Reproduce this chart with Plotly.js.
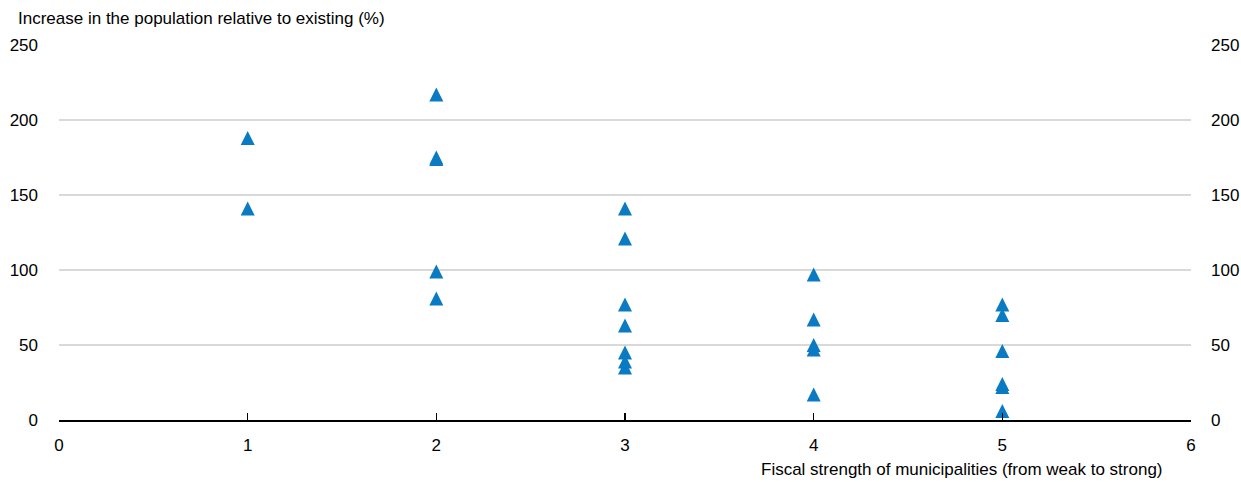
<!DOCTYPE html>
<html>
<head>
<meta charset="utf-8">
<script src="https://cdn.plot.ly/plotly-3.0.1.min.js"></script>
<style>html,body{margin:0;padding:0;background:#fff;}#chart{width:1241px;height:482px;}</style>
</head>
<body>
<div id="chart"></div>
<script>
// Fiscal strength group (x) and population increase (%) (y)
const fiscalStrength = [1, 1, 2, 2, 2, 2, 2, 3, 3, 3, 3, 3, 3, 3, 4, 4, 4, 4, 4, 5, 5, 5, 5, 5, 5];
const populationIncrease = [188, 141, 217, 175, 174, 99, 81, 141, 121, 77, 63, 45, 39, 35, 97, 67, 50, 47, 17, 77, 70, 46, 24, 22, 6];
const xTicks = [0, 1, 2, 3, 4, 5, 6];
const yTicks = [0, 50, 100, 150, 200, 250];
const yTitle = "Increase in the population relative to existing (%)";
const xTitle = "Fiscal strength of municipalities (from weak to strong)";

const FONT = "'Liberation Sans', Arial, sans-serif";
const FS = 17;
const MS = 14;

const trace = {
  x: fiscalStrength,
  y: populationIncrease,
  type: 'scatter',
  mode: 'markers',
  marker: {symbol: 'arrow-down', angle: 180, size: MS, standoff: MS / 2, color: '#0a7bc2', line: {width: 0}},
  hoverinfo: 'x+y',
  showlegend: false
};
// same points on the right-hand axis (transparent) so the mirrored axis is drawn
const traceRight = {
  x: fiscalStrength,
  y: populationIncrease,
  yaxis: 'y2',
  type: 'scatter',
  mode: 'markers',
  marker: {opacity: 0, size: 1},
  hoverinfo: 'skip',
  showlegend: false
};

const layout = {
  width: 1241, height: 482,
  margin: {l: 58.5, r: 50, t: 45, b: 61.5},
  paper_bgcolor: '#fff', plot_bgcolor: '#fff',
  font: {family: FONT, size: FS, color: '#000'},
  showlegend: false,
  xaxis: {
    range: [0, 6], tickvals: xTicks, ticktext: xTicks.map(String),
    showgrid: false, zeroline: false,
    showline: true, linecolor: '#000', linewidth: 1.5,
    ticks: 'inside', ticklen: 7, tickwidth: 1.5, tickcolor: '#000',
    ticklabelstandoff: 9,
    tickfont: {family: FONT, size: FS, color: '#000'}
  },
  yaxis: {
    range: [0, 250], tickvals: yTicks, ticktext: yTicks.map(String),
    showgrid: true, gridcolor: '#d9d9d9', gridwidth: 1.5,
    zeroline: false, showline: false, ticks: '',
    ticklabelstandoff: 20,
    tickfont: {family: FONT, size: FS, color: '#000'}
  },
  yaxis2: {
    range: [0, 250], tickvals: yTicks, ticktext: yTicks.map(String),
    overlaying: 'y', side: 'right', anchor: 'x',
    showgrid: false, zeroline: false, showline: false, ticks: '',
    ticklabelstandoff: 19,
    tickfont: {family: FONT, size: FS, color: '#000'}
  },
  annotations: [
    {text: yTitle, xref: 'paper', yref: 'paper', x: 0, y: 1, xanchor: 'left', yanchor: 'middle',
     xshift: -43.5, yshift: 27, showarrow: false, font: {family: FONT, size: FS, color: '#000'}},
    {text: xTitle, xref: 'paper', yref: 'paper', x: 1, y: 0, xanchor: 'right', yanchor: 'middle',
     xshift: -26, yshift: -49.5, showarrow: false, font: {family: FONT, size: FS, color: '#000'}}
  ]
};

Plotly.newPlot('chart', [trace, traceRight], layout, {displayModeBar: false, staticPlot: true});
</script>
</body>
</html>
